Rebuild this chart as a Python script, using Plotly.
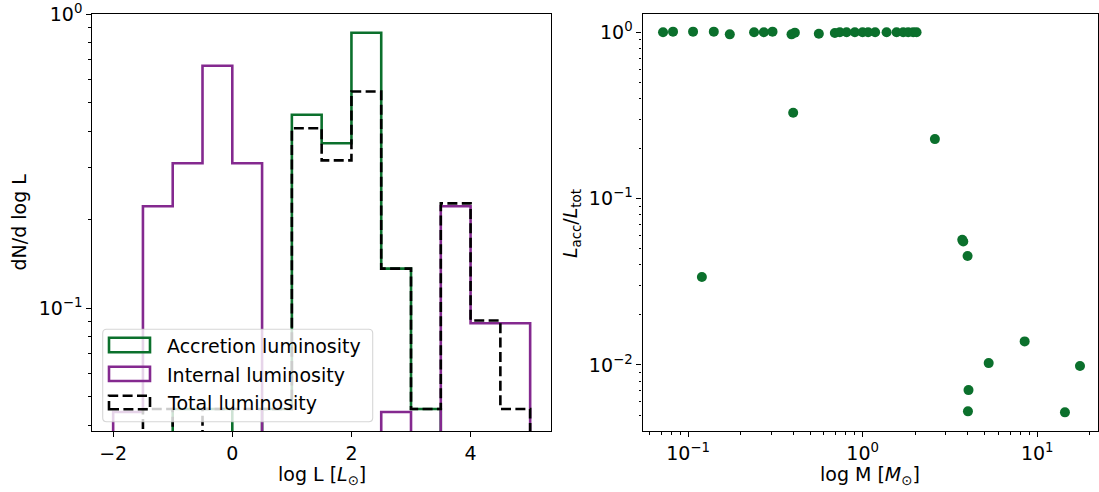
import plotly.graph_objects as go

W, H = 1099, 492
FONT = "DejaVu Sans"
GREEN = "#0b702c"
PURPLE = "#84298f"
BLACK = "#000000"

# ---- left panel: luminosity distributions (dN / d log L per bin) ----
bin_edges = [-2.0, -1.5, -1.0, -0.5, 0.0, 0.5, 1.0, 1.5, 2.0, 2.5, 3.0, 3.5, 4.0, 4.5, 5.0]
acc_density = [0, 0, 0.0455, 0.0455, 0, 0.0455, 0.4545, 0.3636, 0.8636, 0.1364, 0.0455, 0, 0, 0]
int_density = [0.0444, 0.2222, 0.3111, 0.6667, 0.3111, 0, 0, 0, 0, 0.0444, 0, 0.2222, 0.0889, 0.0889]
tot_density = [0, 0.0455, 0, 0.0455, 0.0455, 0.0455, 0.4091, 0.3182, 0.5455, 0.1364, 0.0455, 0.2273, 0.0909, 0.0455]
series_names = ["Accretion luminosity", "Internal luminosity", "Total luminosity"]

# ---- right panel: accretion fraction versus mass ----
mass = [0.0719, 0.082, 0.1068, 0.1404, 0.1734, 0.2388, 0.2716, 0.3046, 0.3914, 0.4089,
        0.561, 0.693, 0.740, 0.809, 0.902, 0.9986, 1.075, 1.179, 1.371, 1.564,
        1.707, 1.823, 1.947, 2.036,
        0.120, 0.400, 2.593, 3.72, 3.77, 3.99, 8.47, 5.27, 17.57, 4.04, 4.01, 14.41]
acc_fraction = [1.0, 1.009, 1.009, 1.009, 0.972, 1.0, 1.0, 1.009, 0.972, 0.995,
                0.981, 0.991, 1.0, 1.0, 1.0, 1.0, 1.0, 1.0, 1.0, 1.0,
                1.0, 1.0, 1.0, 1.0,
                0.0338, 0.3286, 0.228, 0.0565, 0.0552, 0.0452, 0.01386, 0.01026, 0.00985, 0.00706, 0.00526, 0.00519]

FLOOR = 1e-4  # empty bins drop below the visible log range


def step_outline(edges, values):
    xs, ys = [edges[0]], [FLOOR]
    for i, v in enumerate(values):
        v = v if v > 0 else FLOOR
        xs += [edges[i], edges[i + 1]]
        ys += [v, v]
    xs.append(edges[-1])
    ys.append(FLOOR)
    return xs, ys


def px(x):
    return x / W


def py(y):
    return 1 - y / H


fig = go.Figure()

styles = [
    dict(color=GREEN, width=2.6),
    dict(color=PURPLE, width=2.6),
    dict(color=BLACK, width=2.6, dash="10px,4.4px"),
]
for name, dens, st in zip(series_names, [acc_density, int_density, tot_density], styles):
    xs, ys = step_outline(bin_edges, dens)
    fig.add_trace(go.Scatter(x=xs, y=ys, mode="lines", line=st, name=name,
                             xaxis="x", yaxis="y", showlegend=False, hoverinfo="skip"))

fig.add_trace(go.Scatter(x=mass, y=acc_fraction, mode="markers",
                         marker=dict(color=GREEN, size=10, line=dict(width=0)),
                         xaxis="x2", yaxis="y2", showlegend=False))

tickfont = dict(family=FONT, size=19, color="black")
common = dict(showline=True, linecolor="black", linewidth=1.1, mirror=True,
              ticks="outside", ticklen=5, tickwidth=1.1, tickcolor="black",
              showgrid=False, zeroline=False, tickfont=tickfont, automargin=False)
minor = dict(ticks="outside", ticklen=2.8, tickwidth=0.8, tickcolor="black", showgrid=False)

y_dom = [py(431), py(14)]

left_y_minor = [0.04, 0.05, 0.06, 0.07, 0.08, 0.09, 0.2, 0.3, 0.4, 0.5, 0.6, 0.7, 0.8, 0.9]
right_x_minor = [0.06, 0.07, 0.08, 0.09, 0.2, 0.3, 0.4, 0.5, 0.6, 0.7, 0.8, 0.9,
                 2, 3, 4, 5, 6, 7, 8, 9, 20]
right_y_minor = [0.005, 0.006, 0.007, 0.008, 0.009, 0.02, 0.03, 0.04, 0.05, 0.06, 0.07,
                 0.08, 0.09, 0.2, 0.3, 0.4, 0.5, 0.6, 0.7, 0.8, 0.9]

fig.update_layout(
    width=W, height=H,
    margin=dict(l=0, r=0, t=0, b=0, autoexpand=False),
    paper_bgcolor="white", plot_bgcolor="white",
    font=dict(family=FONT, size=19, color="black"),
    xaxis=dict(domain=[px(92.3), px(551)], range=[-2.35, 5.35],
               tickmode="array", tickvals=[-2, 0, 2, 4], ticktext=["−2", "0", "2", "4"],
               anchor="y", **common),
    yaxis=dict(domain=y_dom, type="log", range=[-1.417, 0],
               tickmode="array", tickvals=[0.1, 1],
               ticktext=["10<sup>−1</sup>", "10<sup>0</sup>"],
               minor=dict(tickmode="array", tickvals=left_y_minor, **minor),
               anchor="x", **common),
    xaxis2=dict(domain=[px(642.5), px(1098)], type="log", range=[-1.261, 1.348],
                tickmode="array", tickvals=[0.1, 1, 10],
                ticktext=["10<sup>−1</sup>", "10<sup>0</sup>", "10<sup>1</sup>"],
                minor=dict(tickmode="array", tickvals=right_x_minor, **minor),
                anchor="y2", **common),
    yaxis2=dict(domain=y_dom, type="log", range=[-2.397, 0.110],
                tickmode="array", tickvals=[0.01, 0.1, 1],
                ticktext=["10<sup>−2</sup>", "10<sup>−1</sup>", "10<sup>0</sup>"],
                minor=dict(tickmode="array", tickvals=right_y_minor, **minor),
                anchor="x2", **common),
)

# axis titles
titles = [
    (321.7, 475, "log L [<i>L</i><sub>⊙</sub>]", 0),
    (870, 475, "log M [<i>M</i><sub>⊙</sub>]", 0),
    (19, 222.5, "dN/d log L", -90),
    (571, 224, "<i>L</i><sub>acc</sub>/<i>L</i><sub>tot</sub>", -90),
]
for x, y, txt, ang in titles:
    fig.add_annotation(x=px(x), y=py(y), xref="paper", yref="paper", text=txt,
                       showarrow=False, textangle=ang, xanchor="center", yanchor="middle",
                       font=dict(family=FONT, size=19, color="black"))

# legend frame (rounded, semi-transparent)
x0, x1, y0, y1, r = 102.7, 372.7, 329.3, 421.7, 4
rx, ry = r / W, r / H
X0, X1, Y0, Y1 = px(x0), px(x1), py(y1), py(y0)
path = (f"M {X0 + rx},{Y0} L {X1 - rx},{Y0} Q {X1},{Y0} {X1},{Y0 + ry} "
        f"L {X1},{Y1 - ry} Q {X1},{Y1} {X1 - rx},{Y1} L {X0 + rx},{Y1} "
        f"Q {X0},{Y1} {X0},{Y1 - ry} L {X0},{Y0 + ry} Q {X0},{Y0} {X0 + rx},{Y0} Z")
fig.add_shape(type="path", path=path, xref="paper", yref="paper", layer="above",
              fillcolor="rgba(255,255,255,0.8)", line=dict(color="rgba(204,204,204,0.8)", width=1.1))

handle_rows = [(337.7, 352.3, 346), (366.7, 381.0, 374.5), (395.7, 409.3, 403)]
for (ya, yb, yt), st, name in zip(handle_rows, styles, series_names):
    fig.add_shape(type="rect", xref="paper", yref="paper", layer="above",
                  x0=px(109), x1=px(150), y0=py(yb), y1=py(ya),
                  line=dict(color=st["color"], width=st["width"], dash=st.get("dash", "solid")),
                  fillcolor="rgba(0,0,0,0)")
    fig.add_annotation(x=px(165), y=py(yt), xref="paper", yref="paper", text=name,
                       showarrow=False, xanchor="left", yanchor="middle",
                       font=dict(family=FONT, size=19, color="black"))

fig.write_html("out.html")
